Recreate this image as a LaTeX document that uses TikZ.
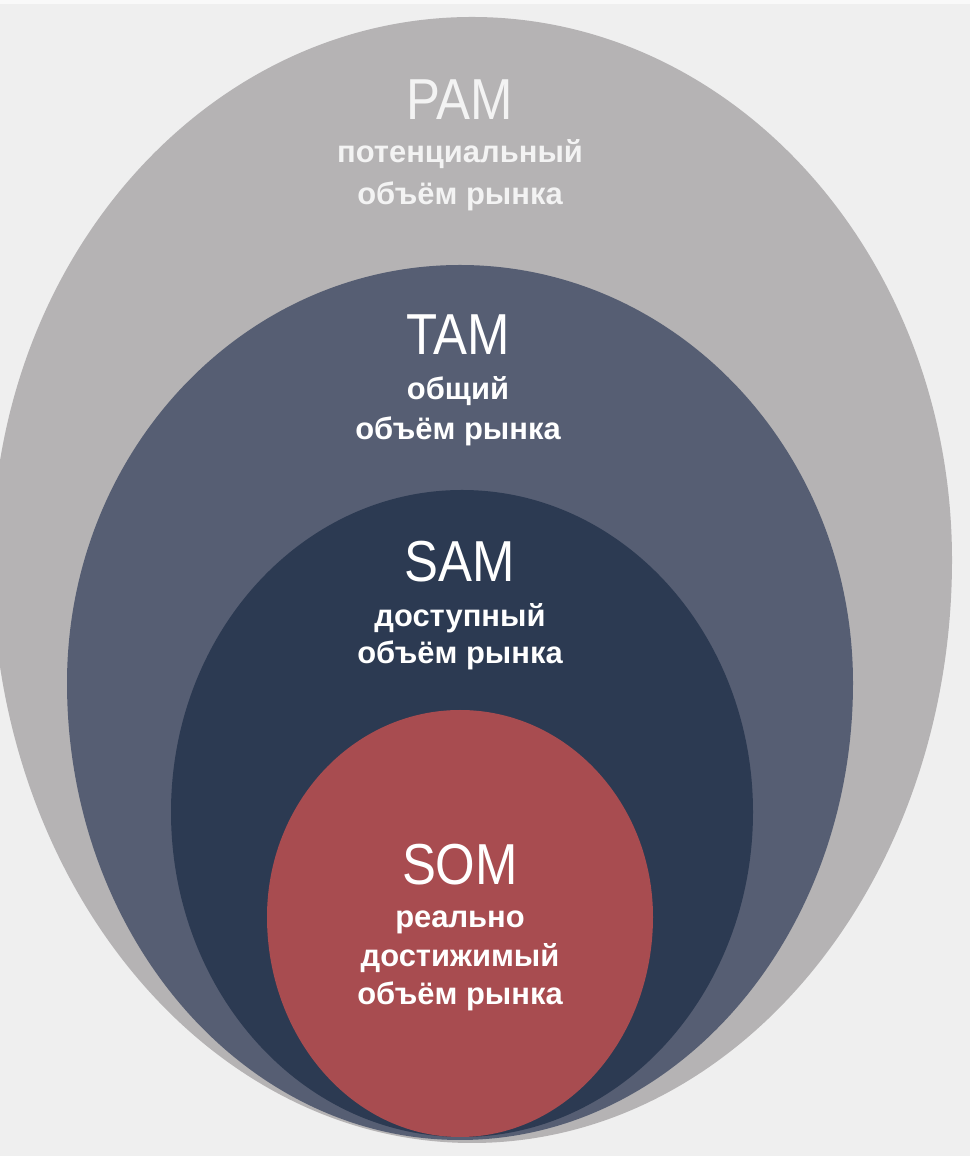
\documentclass[tikz,border=0pt]{standalone}
\usepackage{fontspec}
\setmainfont{Liberation Sans}
\newfontfamily\headfont[FakeStretch=0.88]{Liberation Sans}
\usetikzlibrary{positioning}

\definecolor{bgcol}{HTML}{EFEFEF}
\definecolor{pamcol}{HTML}{B5B3B4}
\definecolor{tamcol}{HTML}{565E73}
\definecolor{samcol}{HTML}{2C3A52}
\definecolor{somcol}{HTML}{A84C50}
\definecolor{pamtext}{HTML}{F3F3F3}

% egg: colour, centre x, widest y, half width, upper and lower half height
\newcommand{\marketegg}[6]{%
  \fill[#1] ({#2-#4},#3) arc[start angle=180,end angle=0,x radius=#4,y radius=#5]
    arc[start angle=0,end angle=-180,x radius=#4,y radius=#6] -- cycle;}

\begin{document}
\begin{tikzpicture}[x=0.02cm,y=0.02cm]
                \tikzstyle{every node}+=[inner sep=0pt, anchor=base]
                \tikzstyle{headline}=[font=\headfont\fontsize{32.9}{36}\selectfont, text=white]
                \tikzstyle{subline}=[font=\bfseries\fontsize{17.6}{20}\selectfont, text=white]
                \useasboundingbox (0,0) rectangle (970,1156);
                \fill [bgcol] (0,0) rectangle (970,1156);
                \fill [white!60!bgcol] (0,1152) rectangle (970,1156);
                % market layers, outside in
                \marketegg{pamcol}{472}{596}{480}{543}{583}
                \marketegg{tamcol}{460}{473}{393}{418}{457}
                \marketegg{samcol}{462}{344}{291}{322}{325}
                \marketegg{somcol}{460}{239}{193}{207}{220}
                % PAM
                \node [headline, text=pamtext] (pam) at (460,1036) {PAM};
                \node [subline, text=pamtext] (pam1) at (460,993) {потенциальный};
                \node [subline, text=pamtext] (pam2) at (460,951) {объём рынка};
                % TAM
                \node [headline] (tam) at (458,801) {TAM};
                \node [subline] (tam1) at (458,756) {общий};
                \node [subline] (tam2) at (458,716) {объём рынка};
                % SAM
                \node [headline] (sam) at (460,574) {SAM};
                \node [subline] (sam1) at (460,529) {доступный};
                \node [subline] (sam2) at (460,492) {объём рынка};
                % SOM
                \node [headline] (som) at (460,271) {SOM};
                \node [subline] (som1) at (460,228) {реально};
                \node [subline] (som2) at (460,189) {достижимый};
                \node [subline] (som3) at (460,151) {объём рынка};
\end{tikzpicture}
\end{document}
